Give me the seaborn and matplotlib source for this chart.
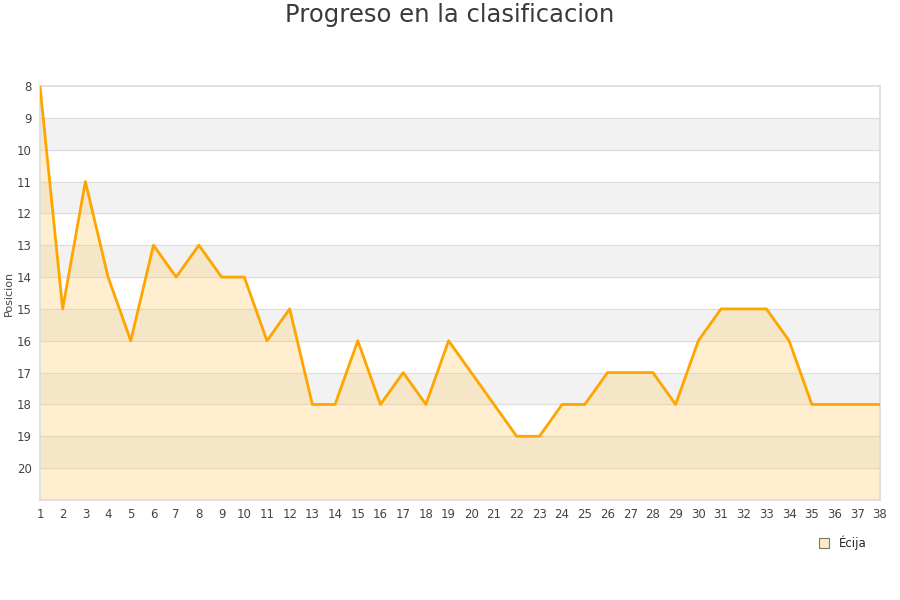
import matplotlib
matplotlib.use("Agg")
import matplotlib.pyplot as plt
import seaborn as sns
import pandas as pd

jornadas = list(range(1, 39))
posicion = [8, 15, 11, 14, 16, 13, 14, 13, 14, 14, 16, 15, 18, 18, 16, 18, 17, 18, 16, 17,
            18, 19, 19, 18, 18, 17, 17, 17, 18, 16, 15, 15, 15, 16, 18, 18, 18, 18]
equipo = "Écija"
y_ticks = list(range(8, 21))

df = pd.DataFrame({"jornada": jornadas, "posicion": posicion})

sns.set_theme(style="white")
plt.rcParams["font.family"] = ["DejaVu Sans"]

fig = plt.figure(figsize=(9, 6), dpi=100)
ax = fig.add_axes([0.0444, 0.1667, 0.9333, 0.69])

# alternating bands
for lo in range(9, 21, 2):
    ax.axhspan(lo, lo + 1, color="#f2f2f2", zorder=0)
for y in range(9, 21):
    ax.axhline(y, color="#dddddd", lw=0.8, zorder=1)

ax.fill_between(df["jornada"], df["posicion"], 21, color="#ffcc66", alpha=0.3,
                lw=0, zorder=2)
sns.lineplot(data=df, x="jornada", y="posicion", color="#ffa500", lw=2, ax=ax, zorder=3)

ax.set_xlim(1, 38)
ax.set_ylim(21, 8)
ax.set_xticks(jornadas)
ax.set_yticks(y_ticks)
ax.tick_params(axis="both", labelsize=8.5, colors="#444444", length=0, pad=6)
ax.set_xlabel("")
ax.set_ylabel("Posicion", fontsize=8, color="#444444", labelpad=2)
for s in ax.spines.values():
    s.set_color("#dddddd")

fig.suptitle("Progreso en la clasificacion", fontsize=17.5, color="#3a3a3a", y=0.995)

handle = plt.Line2D([], [], marker="s", ls="", markersize=7,
                    markerfacecolor="#ffe9c0", markeredgecolor="#777777", markeredgewidth=0.8)
fig.legend([handle], [equipo], loc="upper right", bbox_to_anchor=(0.975, 0.125),
           frameon=False, fontsize=8.5, handletextpad=0.3)

fig.savefig("out.png", dpi=100)
